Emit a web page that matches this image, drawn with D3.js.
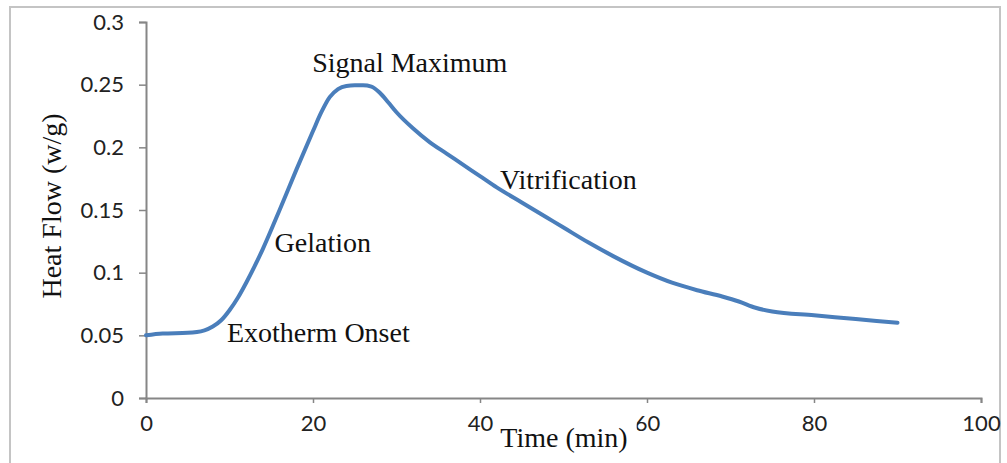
<!DOCTYPE html>
<html>
<head>
<meta charset="utf-8">
<script src="https://cdn.jsdelivr.net/npm/d3@7"></script>
<style>
html,body{margin:0;padding:0;background:#fff;}
svg{display:block;}
</style>
</head>
<body>
<svg id="chart" width="1007" height="463"></svg>
<script>
// Data
const timeMin = [0, 2, 5, 7, 8, 9, 10, 11, 12, 13, 14, 16, 18, 20, 21, 22, 23, 24, 25, 26, 27, 28, 29, 30, 32, 34, 36, 38, 40, 42, 45, 48, 50, 53, 56, 60, 63, 66, 69, 71, 73, 75, 80, 85, 90];
const heatFlow = [0.050, 0.0515, 0.052, 0.054, 0.057, 0.062, 0.070, 0.080, 0.092, 0.105, 0.119, 0.150, 0.182, 0.213, 0.228, 0.240, 0.2465, 0.249, 0.2495, 0.2495, 0.2485, 0.2435, 0.236, 0.228, 0.215, 0.204, 0.195, 0.186, 0.177, 0.168, 0.156, 0.144, 0.136, 0.124, 0.113, 0.100, 0.092, 0.086, 0.081, 0.077, 0.072, 0.069, 0.066, 0.063, 0.060];
const xTicks = [0, 20, 40, 60, 80, 100];
const yTicks = [0, 0.05, 0.1, 0.15, 0.2, 0.25, 0.3];
const yTickLabels = ["0", "0.05", "0.1", "0.15", "0.2", "0.25", "0.3"];
const annotations = [
  {text: "Signal Maximum", t: 19.9, v: 0.2605},
  {text: "Gelation", t: 15.4, v: 0.1165},
  {text: "Vitrification", t: 42.4, v: 0.1665},
  {text: "Exotherm Onset", t: 9.7, v: 0.0445}
];
const xTitle = "Time (min)";
const yTitle = "Heat Flow (w/g)";

const svg = d3.select("#chart");
const W = 1007, H = 463;
const m = {left: 146, right: 26, top: 22, bottom: 65};

// outer frame
svg.append("rect").attr("x", 10).attr("y", 7).attr("width", 990).attr("height", 470)
  .attr("fill", "#fff").attr("stroke", "#c4c4c4").attr("stroke-width", 2);

const x = d3.scaleLinear().domain([0, 100]).range([m.left, W - m.right]);
const y = d3.scaleLinear().domain([0, 0.3]).range([H - m.bottom, m.top]);

const axisColor = "#868686";
const tickFont = "Lato, 'Open Sans', sans-serif";

const xAxis = svg.append("g").attr("transform", `translate(0,${y(0)})`)
  .call(d3.axisBottom(x).tickValues(xTicks).tickSize(5).tickPadding(12).tickFormat(d3.format("d")));
const yAxis = svg.append("g").attr("transform", `translate(${x(0)},0)`)
  .call(d3.axisLeft(y).tickValues(yTicks).tickSize(7).tickPadding(15).tickFormat((d, i) => yTickLabels[i]));

[xAxis, yAxis].forEach(g => {
  g.select(".domain").attr("stroke", axisColor).attr("stroke-width", 2);
  g.selectAll(".tick line").attr("stroke", axisColor).attr("stroke-width", 1.5);
  g.selectAll(".tick text").attr("fill", "#222").style("font-family", tickFont).style("font-size", "22px");
});

// data line
const line = d3.line().x((d, i) => x(timeMin[i])).y(d => y(d)).curve(d3.curveMonotoneX);
svg.append("path").datum(heatFlow).attr("d", line)
  .attr("fill", "none").attr("stroke", "#4a7ebb").attr("stroke-width", 4)
  .attr("stroke-linecap", "round").attr("stroke-linejoin", "round");

// annotations
const serif = "'Liberation Serif', 'Times New Roman', serif";
svg.selectAll("text.ann").data(annotations).enter().append("text")
  .attr("class", "ann")
  .attr("x", d => x(d.t)).attr("y", d => y(d.v))
  .attr("fill", "#111").style("font-family", serif).style("font-size", "28px")
  .text(d => d.text);

// x title with white background
const xt = svg.append("g");
const xtText = xt.append("text").attr("x", 564).attr("y", 447).attr("text-anchor", "middle")
  .style("font-family", serif).style("font-size", "28px").attr("fill", "#111").text(xTitle);
const bb = xtText.node().getBBox();
xt.insert("rect", "text").attr("x", bb.x - 3).attr("y", bb.y - 1).attr("width", bb.width + 12).attr("height", bb.height + 4).attr("fill", "#fff");

// y title
svg.append("text").attr("transform", "translate(61,206) rotate(-90)").attr("text-anchor", "middle")
  .style("font-family", serif).style("font-size", "28px").attr("fill", "#111").text(yTitle);
</script>
</body>
</html>
